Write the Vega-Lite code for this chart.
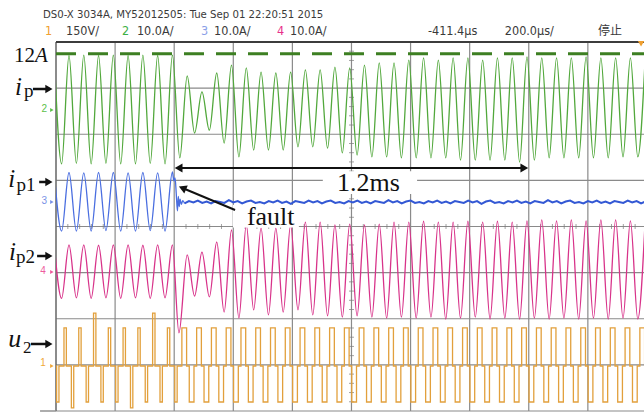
{
  "$schema": "https://vega.github.io/schema/vega-lite/v6.json",
  "width": 588,
  "height": 369,
  "autosize": {"type": "none"},
  "padding": {"left": 56, "top": 42, "right": 0, "bottom": 2},
  "background": "white",
  "config": {"view": {"stroke": null}, "axis": {"disable": true}},
  "resolve": {"scale": {"y": "independent"}},
  "datasets": {
    "vgrid": [{"t": 200}, {"t": 400}, {"t": 600}, {"t": 800}, {"t": 1000}, {"t": 1200}, {"t": 1400}, {"t": 1600}, {"t": 1800}],
    "hgrid": [{"d": 0}, {"d": 1}, {"d": 2}, {"d": 3}, {"d": 4}, {"d": 5}, {"d": 6}, {"d": 7}],
    "ticksX": [{"t":40},{"t":80},{"t":120},{"t":160},{"t":240},{"t":280},{"t":320},{"t":360},{"t":440},{"t":480},{"t":520},{"t":560},{"t":640},{"t":680},{"t":720},{"t":760},{"t":840},{"t":880},{"t":920},{"t":960},{"t":1040},{"t":1080},{"t":1120},{"t":1160},{"t":1240},{"t":1280},{"t":1320},{"t":1360},{"t":1440},{"t":1480},{"t":1520},{"t":1560},{"t":1640},{"t":1680},{"t":1720},{"t":1760},{"t":1840},{"t":1880},{"t":1920},{"t":1960}],
    "ticksY": [{"d":0.2},{"d":0.4},{"d":0.6},{"d":0.8},{"d":1.2},{"d":1.4},{"d":1.6},{"d":1.8},{"d":2.2},{"d":2.4},{"d":2.6},{"d":2.8},{"d":3.2},{"d":3.4},{"d":3.6},{"d":3.8},{"d":4.2},{"d":4.4},{"d":4.6},{"d":4.8},{"d":5.2},{"d":5.4},{"d":5.6},{"d":5.8},{"d":6.2},{"d":6.4},{"d":6.6},{"d":6.8},{"d":7.2},{"d":7.4},{"d":7.6},{"d":7.8}],
    "ip": [
      {"t":-6,"i":11.6},{"t":19,"i":-11.9},{"t":44,"i":11.6},{"t":69,"i":-11.8},{"t":94,"i":11.7},{"t":119,"i":-11.9},{"t":144,"i":11.6},{"t":169,"i":-11.8},{"t":194,"i":11.7},{"t":219,"i":-11.9},{"t":244,"i":11.6},{"t":269,"i":-11.9},{"t":294,"i":11.7},{"t":319,"i":-11.8},{"t":344,"i":11.6},{"t":369,"i":-11.9},{"t":394,"i":11.7},
      {"t":419,"i":-10.6},{"t":444,"i":7.2},{"t":469,"i":-5.2},{"t":494,"i":3.7},{"t":519,"i":-4.6},{"t":544,"i":7.8},{"t":569,"i":-7.4},{"t":594,"i":9.5},{"t":619,"i":-10.4},{"t":644,"i":8.9},{"t":669,"i":-8.9},{"t":694,"i":8.0},{"t":719,"i":-8.9},{"t":744,"i":7.8},{"t":769,"i":-8.9},{"t":794,"i":8.0},{"t":819,"i":-8.2},{"t":844,"i":8.5},{"t":869,"i":-8.2},{"t":894,"i":8.5},{"t":919,"i":-8.5},{"t":944,"i":9.1},{"t":969,"i":-9.5},{"t":994,"i":8.9},{"t":1019,"i":-10.0},{"t":1044,"i":9.5},{"t":1069,"i":-10.4},{"t":1094,"i":10.0},{"t":1119,"i":-10.4},{"t":1144,"i":10.0},{"t":1169,"i":-10.6},{"t":1194,"i":10.6},{"t":1219,"i":-10.6},{"t":1244,"i":11.1},{"t":1269,"i":-10.6},{"t":1294,"i":10.6},{"t":1319,"i":-10.6},{"t":1344,"i":11.1},{"t":1369,"i":-11.1},{"t":1394,"i":11.1},{"t":1419,"i":-11.1},{"t":1444,"i":10.6},{"t":1469,"i":-11.1},{"t":1494,"i":11.1},{"t":1519,"i":-11.1},{"t":1544,"i":11.1},{"t":1569,"i":-11.5},{"t":1594,"i":11.3},{"t":1619,"i":-11.1},{"t":1644,"i":11.1},{"t":1669,"i":-10.6},{"t":1694,"i":11.1},{"t":1719,"i":-10.6},{"t":1744,"i":11.1},{"t":1769,"i":-10.6},{"t":1794,"i":11.3},{"t":1819,"i":-10.6},{"t":1844,"i":11.1},{"t":1869,"i":-10.6},{"t":1894,"i":11.1},{"t":1919,"i":-10.4},{"t":1944,"i":11.1},{"t":1969,"i":-10.4},{"t":1994,"i":11.1}
    ],
    "ip1": [
      {"t":-6,"i":6.4},{"t":19,"i":-6.3},{"t":44,"i":6.4},{"t":69,"i":-6.3},{"t":94,"i":6.3},{"t":119,"i":-6.3},{"t":144,"i":6.4},{"t":169,"i":-6.2},{"t":194,"i":6.4},{"t":219,"i":-6.3},{"t":244,"i":6.3},{"t":269,"i":-6.3},{"t":294,"i":6.4},{"t":319,"i":-6.2},{"t":344,"i":6.3},{"t":369,"i":-6.3},{"t":394,"i":6.5},
      {"t":399,"i":4.6},{"t":403,"i":5.2},{"t":407,"i":1.8},{"t":411,"i":-1.9},{"t":414,"i":1.2},{"t":417,"i":-1.0},{"t":420,"i":0.6},{"t":424,"i":-0.5},{"t":429,"i":0.3},{"t":435,"i":-0.3}
    ],
    "ip1n": [
      {"t":435,"i":-0.3},{"t":450,"i":0.2},{"t":465,"i":-0.1},{"t":480,"i":0.3},{"t":495,"i":-0.2},{"t":510,"i":0.1},{"t":525,"i":-0.3},{"t":540,"i":0.2},{"t":555,"i":0.0},{"t":570,"i":-0.2},{"t":585,"i":0.4},{"t":600,"i":-0.1},{"t":615,"i":0.2},{"t":630,"i":-0.3},{"t":645,"i":0.1},{"t":660,"i":0.3},{"t":675,"i":-0.2},{"t":690,"i":0.0},{"t":705,"i":-0.3},{"t":720,"i":0.2},{"t":735,"i":-0.1},{"t":750,"i":0.3},{"t":765,"i":-0.2},{"t":780,"i":0.1},{"t":795,"i":-0.4},{"t":810,"i":0.2},{"t":825,"i":0.0},{"t":840,"i":-0.2},{"t":855,"i":0.3},{"t":870,"i":-0.1},{"t":885,"i":0.2},{"t":900,"i":-0.3},{"t":915,"i":0.1},{"t":930,"i":0.3},{"t":945,"i":-0.2},{"t":960,"i":0.0},{"t":975,"i":-0.3},{"t":990,"i":0.2},{"t":1005,"i":-0.1},{"t":1020,"i":0.3},{"t":1035,"i":-0.2},{"t":1050,"i":0.1},{"t":1065,"i":-0.3},{"t":1080,"i":0.2},{"t":1095,"i":0.0},{"t":1110,"i":-0.2},{"t":1125,"i":0.4},{"t":1140,"i":-0.1},{"t":1155,"i":0.2},{"t":1170,"i":-0.3},{"t":1185,"i":0.1},{"t":1200,"i":0.3},{"t":1215,"i":-0.2},{"t":1230,"i":0.0},{"t":1245,"i":-0.3},{"t":1260,"i":0.2},{"t":1275,"i":-0.1},{"t":1290,"i":0.3},{"t":1305,"i":-0.2},{"t":1320,"i":0.1},{"t":1335,"i":-0.3},{"t":1350,"i":0.2},{"t":1365,"i":0.0},{"t":1380,"i":-0.2},{"t":1395,"i":0.3},{"t":1410,"i":-0.1},{"t":1425,"i":0.2},{"t":1440,"i":-0.4},{"t":1455,"i":0.1},{"t":1470,"i":0.3},{"t":1485,"i":-0.2},{"t":1500,"i":0.0},{"t":1515,"i":-0.3},{"t":1530,"i":0.2},{"t":1545,"i":-0.1},{"t":1560,"i":0.3},{"t":1575,"i":-0.2},{"t":1590,"i":0.1},{"t":1605,"i":-0.3},{"t":1620,"i":0.2},{"t":1635,"i":0.0},{"t":1650,"i":-0.2},{"t":1665,"i":0.4},{"t":1680,"i":-0.1},{"t":1695,"i":0.2},{"t":1710,"i":-0.3},{"t":1725,"i":0.1},{"t":1740,"i":0.3},{"t":1755,"i":-0.2},{"t":1770,"i":0.0},{"t":1785,"i":-0.3},{"t":1800,"i":0.2},{"t":1815,"i":-0.1},{"t":1830,"i":0.3},{"t":1845,"i":-0.2},{"t":1860,"i":0.1},{"t":1875,"i":-0.3},{"t":1890,"i":0.2},{"t":1905,"i":0.0},{"t":1920,"i":-0.2},{"t":1935,"i":0.3},{"t":1950,"i":-0.1},{"t":1965,"i":0.2},{"t":1980,"i":-0.3},{"t":1995,"i":0.1}
    ],
    "ip2": [
      {"t":-6,"i":5.9},{"t":19,"i":-5.7},{"t":44,"i":5.9},{"t":69,"i":-5.6},{"t":94,"i":5.9},{"t":119,"i":-5.7},{"t":144,"i":5.8},{"t":169,"i":-5.6},{"t":194,"i":5.9},{"t":219,"i":-5.7},{"t":244,"i":5.9},{"t":269,"i":-5.6},{"t":294,"i":5.8},{"t":319,"i":-5.7},{"t":344,"i":5.9},{"t":369,"i":-5.6},{"t":394,"i":5.9},
      {"t":416,"i":-13.2},{"t":444,"i":3.7},{"t":469,"i":-5.2},{"t":494,"i":4.3},{"t":519,"i":-5.4},{"t":544,"i":6.5},{"t":569,"i":-8.7},{"t":594,"i":9.1},{"t":619,"i":-10.0},{"t":644,"i":10.2},{"t":669,"i":-8.2},{"t":694,"i":9.5},{"t":719,"i":-9.3},{"t":744,"i":9.5},{"t":769,"i":-8.7},{"t":794,"i":10.2},{"t":819,"i":-8.2},{"t":844,"i":10.8},{"t":869,"i":-9.3},{"t":894,"i":10.8},{"t":919,"i":-9.5},{"t":944,"i":10.2},{"t":969,"i":-9.8},{"t":994,"i":10.4},{"t":1019,"i":-9.5},{"t":1044,"i":10.2},{"t":1069,"i":-9.8},{"t":1094,"i":10.4},{"t":1119,"i":-10.0},{"t":1144,"i":10.8},{"t":1169,"i":-9.8},{"t":1194,"i":10.8},{"t":1219,"i":-10.0},{"t":1244,"i":11.0},{"t":1269,"i":-9.8},{"t":1294,"i":10.8},{"t":1319,"i":-10.2},{"t":1344,"i":10.8},{"t":1369,"i":-10.0},{"t":1394,"i":11.0},{"t":1419,"i":-9.8},{"t":1444,"i":10.8},{"t":1469,"i":-10.2},{"t":1494,"i":11.0},{"t":1519,"i":-10.0},{"t":1544,"i":10.8},{"t":1569,"i":-10.2},{"t":1594,"i":11.1},{"t":1619,"i":-10.0},{"t":1644,"i":11.3},{"t":1669,"i":-10.2},{"t":1694,"i":11.1},{"t":1719,"i":-10.0},{"t":1744,"i":11.3},{"t":1769,"i":-10.2},{"t":1794,"i":11.1},{"t":1819,"i":-10.0},{"t":1844,"i":11.3},{"t":1869,"i":-10.2},{"t":1894,"i":11.3},{"t":1919,"i":-10.0},{"t":1944,"i":11.1},{"t":1969,"i":-10.2},{"t":1994,"i":11.3}
    ],
    "u2": [
      {"t":0,"u":0},
      {"t":2,"u":-117},{"t":10,"u":0},{"t":27,"u":124},{"t":35,"u":0},
      {"t":52,"u":-136},{"t":60,"u":0},{"t":77,"u":124},{"t":85,"u":0},
      {"t":102,"u":-117},{"t":110,"u":0},{"t":127,"u":172},{"t":135,"u":0},
      {"t":152,"u":-117},{"t":160,"u":0},{"t":177,"u":124},{"t":185,"u":0},
      {"t":202,"u":-117},{"t":210,"u":0},{"t":227,"u":124},{"t":235,"u":0},
      {"t":252,"u":-136},{"t":260,"u":0},{"t":277,"u":124},{"t":285,"u":0},
      {"t":302,"u":-117},{"t":310,"u":0},{"t":327,"u":172},{"t":335,"u":0},
      {"t":352,"u":-117},{"t":360,"u":0},{"t":377,"u":124},{"t":385,"u":0},
      {"t":402,"u":-117},{"t":410,"u":0},{"t":426,"u":124},{"t":442,"u":0},
      {"t":451,"u":-117},{"t":467,"u":0},{"t":476,"u":124},{"t":492,"u":0},
      {"t":501,"u":-117},{"t":517,"u":0},{"t":526,"u":124},{"t":542,"u":0},
      {"t":551,"u":-117},{"t":567,"u":0},{"t":576,"u":124},{"t":592,"u":0},
      {"t":601,"u":-117},{"t":617,"u":0},{"t":626,"u":124},{"t":642,"u":0},
      {"t":651,"u":-117},{"t":667,"u":0},{"t":676,"u":124},{"t":692,"u":0},
      {"t":701,"u":-117},{"t":717,"u":0},{"t":726,"u":124},{"t":742,"u":0},
      {"t":751,"u":-117},{"t":767,"u":0},{"t":776,"u":124},{"t":792,"u":0},
      {"t":801,"u":-117},{"t":817,"u":0},{"t":826,"u":124},{"t":842,"u":0},
      {"t":851,"u":-117},{"t":867,"u":0},{"t":876,"u":124},{"t":892,"u":0},
      {"t":901,"u":-117},{"t":917,"u":0},{"t":926,"u":124},{"t":942,"u":0},
      {"t":951,"u":-117},{"t":967,"u":0},{"t":976,"u":124},{"t":992,"u":0},
      {"t":1001,"u":-117},{"t":1017,"u":0},{"t":1026,"u":124},{"t":1042,"u":0},
      {"t":1051,"u":-117},{"t":1067,"u":0},{"t":1076,"u":124},{"t":1092,"u":0},
      {"t":1101,"u":-117},{"t":1117,"u":0},{"t":1126,"u":124},{"t":1142,"u":0},
      {"t":1151,"u":-117},{"t":1167,"u":0},{"t":1176,"u":124},{"t":1192,"u":0},
      {"t":1201,"u":-117},{"t":1217,"u":0},{"t":1226,"u":124},{"t":1242,"u":0},
      {"t":1251,"u":-117},{"t":1267,"u":0},{"t":1276,"u":124},{"t":1292,"u":0},
      {"t":1301,"u":-117},{"t":1317,"u":0},{"t":1326,"u":124},{"t":1342,"u":0},
      {"t":1351,"u":-117},{"t":1367,"u":0},{"t":1376,"u":124},{"t":1392,"u":0},
      {"t":1401,"u":-117},{"t":1417,"u":0},{"t":1426,"u":124},{"t":1442,"u":0},
      {"t":1451,"u":-117},{"t":1467,"u":0},{"t":1476,"u":124},{"t":1492,"u":0},
      {"t":1501,"u":-117},{"t":1517,"u":0},{"t":1526,"u":124},{"t":1542,"u":0},
      {"t":1551,"u":-117},{"t":1567,"u":0},{"t":1576,"u":124},{"t":1592,"u":0},
      {"t":1601,"u":-117},{"t":1617,"u":0},{"t":1626,"u":124},{"t":1642,"u":0},
      {"t":1651,"u":-117},{"t":1667,"u":0},{"t":1676,"u":124},{"t":1692,"u":0},
      {"t":1701,"u":-117},{"t":1717,"u":0},{"t":1726,"u":124},{"t":1742,"u":0},
      {"t":1751,"u":-117},{"t":1767,"u":0},{"t":1776,"u":124},{"t":1792,"u":0},
      {"t":1801,"u":-117},{"t":1817,"u":0},{"t":1826,"u":124},{"t":1842,"u":0},
      {"t":1851,"u":-117},{"t":1867,"u":0},{"t":1876,"u":124},{"t":1892,"u":0},
      {"t":1901,"u":-117},{"t":1917,"u":0},{"t":1926,"u":124},{"t":1942,"u":0},
      {"t":1951,"u":-117},{"t":1967,"u":0},{"t":1976,"u":124},{"t":1992,"u":0}
    ],
    "one": [{}]
  },
  "layer": [
    {"data": {"name": "vgrid"}, "mark": {"type": "rule", "color": "#8a8a8a", "strokeWidth": 1.2},
     "encoding": {"x": {"field": "t", "type": "quantitative", "scale": {"domain": [0, 1990], "nice": false, "zero": false}}}},
    {"data": {"name": "hgrid"}, "mark": {"type": "rule", "color": "#8a8a8a", "strokeWidth": 1.2},
     "encoding": {"y": {"field": "d", "type": "quantitative", "scale": {"domain": [0, 8], "nice": false, "zero": false}}}},
    {"data": {"name": "one"}, "mark": {"type": "rule", "color": "#6e6e6e", "strokeWidth": 1.6},
     "encoding": {"x": {"datum": 0, "scale": {"domain": [0, 1990], "nice": false, "zero": false}}}},
    {"data": {"name": "one"}, "mark": {"type": "rule", "color": "#3c3c3c", "strokeWidth": 2},
     "encoding": {"y": {"datum": 8, "scale": {"domain": [0, 8], "nice": false, "zero": false}}}},
    {"data": {"name": "one"}, "mark": {"type": "rule", "color": "#8a8a8a", "strokeWidth": 1.4},
     "encoding": {"x": {"datum": -54, "scale": {"domain": [0, 1990], "nice": false, "zero": false}}, "x2": {"datum": 0},
                  "y": {"datum": 0, "scale": {"domain": [0, 8], "nice": false, "zero": false}}}},
    {"data": {"name": "ticksX"}, "mark": {"type": "tick", "orient": "vertical", "size": 5, "thickness": 1, "color": "#7a7a7a"},
     "encoding": {"x": {"field": "t", "type": "quantitative", "scale": {"domain": [0, 1990], "nice": false, "zero": false}},
                  "y": {"datum": 4, "scale": {"domain": [0, 8], "nice": false, "zero": false}}}},
    {"data": {"name": "ticksY"}, "mark": {"type": "tick", "orient": "horizontal", "size": 5, "thickness": 1, "color": "#7a7a7a"},
     "encoding": {"x": {"datum": 1000, "scale": {"domain": [0, 1990], "nice": false, "zero": false}},
                  "y": {"field": "d", "type": "quantitative", "scale": {"domain": [0, 8], "nice": false, "zero": false}}}},

    {"data": {"name": "one"}, "mark": {"type": "rule", "color": "#3d7f22", "strokeWidth": 3, "strokeDash": [20, 12], "strokeDashOffset": 8},
     "encoding": {"y": {"datum": 12, "scale": {"domain": [-65.474, 14.526], "nice": false, "zero": false}}}},

    {"data": {"name": "ip"}, "mark": {"type": "line", "color": "#52a83c", "strokeWidth": 1.3, "interpolate": "monotone", "clip": true},
     "encoding": {"x": {"field": "t", "type": "quantitative", "scale": {"domain": [0, 1990], "nice": false, "zero": false}},
                  "y": {"field": "i", "type": "quantitative", "scale": {"domain": [-65.474, 14.526], "nice": false, "zero": false}}}},
    {"data": {"name": "ip1"}, "mark": {"type": "line", "color": "#4a6ee0", "strokeWidth": 1.3, "interpolate": "monotone", "clip": true},
     "encoding": {"x": {"field": "t", "type": "quantitative", "scale": {"domain": [0, 1990], "nice": false, "zero": false}},
                  "y": {"field": "i", "type": "quantitative", "scale": {"domain": [-45.312, 34.688], "nice": false, "zero": false}}}},
    {"data": {"name": "ip1n"}, "mark": {"type": "line", "color": "#3358d4", "strokeWidth": 2, "clip": true},
     "encoding": {"x": {"field": "t", "type": "quantitative", "scale": {"domain": [0, 1990], "nice": false, "zero": false}},
                  "y": {"field": "i", "type": "quantitative", "scale": {"domain": [-45.312, 34.688], "nice": false, "zero": false}}}},
    {"data": {"name": "ip2"}, "mark": {"type": "line", "color": "#d8338a", "strokeWidth": 1.3, "interpolate": "monotone", "clip": true},
     "encoding": {"x": {"field": "t", "type": "quantitative", "scale": {"domain": [0, 1990], "nice": false, "zero": false}},
                  "y": {"field": "i", "type": "quantitative", "scale": {"domain": [-30.136, 49.864], "nice": false, "zero": false}}}},
    {"data": {"name": "u2"}, "mark": {"type": "line", "color": "#e2a03c", "strokeWidth": 1.3, "interpolate": "step-after", "clip": true},
     "encoding": {"x": {"field": "t", "type": "quantitative", "scale": {"domain": [0, 1990], "nice": false, "zero": false}},
                  "y": {"field": "u", "type": "quantitative", "scale": {"domain": [-146.34, 1053.66], "nice": false, "zero": false}}}},

    {"data": {"name": "one"}, "mark": {"type": "rect", "fill": "white"},
     "encoding": {"x": {"datum": 903, "scale": {"domain": [0, 1990], "nice": false, "zero": false}}, "x2": {"datum": 1222},
                  "y": {"datum": 5.2, "scale": {"domain": [0, 8], "nice": false, "zero": false}}, "y2": {"datum": 4.705}}},
    {"data": {"name": "one"}, "mark": {"type": "rect", "fill": "white"},
     "encoding": {"x": {"datum": 599, "scale": {"domain": [0, 1990], "nice": false, "zero": false}}, "x2": {"datum": 822},
                  "y": {"datum": 4.466, "scale": {"domain": [0, 8], "nice": false, "zero": false}}, "y2": {"datum": 3.98}}},

    {"data": {"name": "one"}, "mark": {"type": "text", "text": "1.2ms", "font": "Liberation Serif", "fontSize": 26, "align": "left", "baseline": "alphabetic", "color": "#111"},
     "encoding": {"x": {"datum": 951, "scale": {"domain": [0, 1990], "nice": false, "zero": false}},
                  "y": {"datum": 4.759, "scale": {"domain": [0, 8], "nice": false, "zero": false}}}},
    {"data": {"name": "one"}, "mark": {"type": "text", "text": "fault", "font": "Liberation Serif", "fontSize": 26, "align": "left", "baseline": "alphabetic", "color": "#111"},
     "encoding": {"x": {"datum": 646, "scale": {"domain": [0, 1990], "nice": false, "zero": false}},
                  "y": {"datum": 4.033, "scale": {"domain": [0, 8], "nice": false, "zero": false}}}},

    {"data": {"name": "one"}, "mark": {"type": "rule", "color": "#111", "strokeWidth": 2},
     "encoding": {"x": {"datum": 415, "scale": {"domain": [0, 1990], "nice": false, "zero": false}}, "x2": {"datum": 1585},
                  "y": {"datum": 5.268, "scale": {"domain": [0, 8], "nice": false, "zero": false}}}},
    {"data": {"name": "one"}, "mark": {"type": "point", "shape": "triangle-left", "size": 80, "filled": true, "color": "#111", "opacity": 1},
     "encoding": {"x": {"datum": 415, "scale": {"domain": [0, 1990], "nice": false, "zero": false}},
                  "y": {"datum": 5.268, "scale": {"domain": [0, 8], "nice": false, "zero": false}}}},
    {"data": {"name": "one"}, "mark": {"type": "point", "shape": "triangle-right", "size": 80, "filled": true, "color": "#111", "opacity": 1},
     "encoding": {"x": {"datum": 1585, "scale": {"domain": [0, 1990], "nice": false, "zero": false}},
                  "y": {"datum": 5.268, "scale": {"domain": [0, 8], "nice": false, "zero": false}}}},
    {"data": {"name": "one"}, "mark": {"type": "rule", "color": "#111", "strokeWidth": 2},
     "encoding": {"x": {"datum": 606, "scale": {"domain": [0, 1990], "nice": false, "zero": false}}, "x2": {"datum": 428},
                  "y": {"datum": 4.358, "scale": {"domain": [0, 8], "nice": false, "zero": false}}, "y2": {"datum": 4.835}}},
    {"data": {"name": "one"}, "mark": {"type": "point", "shape": "triangle-up", "angle": -67, "size": 80, "filled": true, "color": "#111", "opacity": 1},
     "encoding": {"x": {"datum": 428, "scale": {"domain": [0, 1990], "nice": false, "zero": false}},
                  "y": {"datum": 4.835, "scale": {"domain": [0, 8], "nice": false, "zero": false}}}},

    {"data": {"name": "one"}, "mark": {"type": "text", "text": "12", "font": "Liberation Serif", "fontSize": 21, "align": "right", "baseline": "alphabetic", "color": "#111"},
     "encoding": {"x": {"datum": -71, "scale": {"domain": [0, 1990], "nice": false, "zero": false}},
                  "y": {"datum": 7.566, "scale": {"domain": [0, 8], "nice": false, "zero": false}}}},
    {"data": {"name": "one"}, "mark": {"type": "text", "text": "A", "font": "Liberation Serif", "fontStyle": "italic", "fontSize": 21, "align": "left", "baseline": "alphabetic", "color": "#111"},
     "encoding": {"x": {"datum": -71, "scale": {"domain": [0, 1990], "nice": false, "zero": false}},
                  "y": {"datum": 7.566, "scale": {"domain": [0, 8], "nice": false, "zero": false}}}},

    {"data": {"name": "one"}, "mark": {"type": "text", "text": "i", "font": "Liberation Serif", "fontStyle": "italic", "fontSize": 25, "align": "left", "baseline": "alphabetic", "color": "#111"},
     "encoding": {"x": {"datum": -139, "scale": {"domain": [0, 1990], "nice": false, "zero": false}},
                  "y": {"datum": 6.851, "scale": {"domain": [0, 8], "nice": false, "zero": false}}}},
    {"data": {"name": "one"}, "mark": {"type": "text", "text": "p", "font": "Liberation Serif", "fontSize": 19, "align": "left", "baseline": "alphabetic", "color": "#111"},
     "encoding": {"x": {"datum": -108, "scale": {"domain": [0, 1990], "nice": false, "zero": false}},
                  "y": {"datum": 6.808, "scale": {"domain": [0, 8], "nice": false, "zero": false}}}},
    {"data": {"name": "one"}, "mark": {"type": "text", "text": "i", "font": "Liberation Serif", "fontStyle": "italic", "fontSize": 25, "align": "left", "baseline": "alphabetic", "color": "#111"},
     "encoding": {"x": {"datum": -162, "scale": {"domain": [0, 1990], "nice": false, "zero": false}},
                  "y": {"datum": 4.856, "scale": {"domain": [0, 8], "nice": false, "zero": false}}}},
    {"data": {"name": "one"}, "mark": {"type": "text", "text": "p1", "font": "Liberation Serif", "fontSize": 19, "align": "left", "baseline": "alphabetic", "color": "#111"},
     "encoding": {"x": {"datum": -134, "scale": {"domain": [0, 1990], "nice": false, "zero": false}},
                  "y": {"datum": 4.77, "scale": {"domain": [0, 8], "nice": false, "zero": false}}}},
    {"data": {"name": "one"}, "mark": {"type": "text", "text": "i", "font": "Liberation Serif", "fontStyle": "italic", "fontSize": 25, "align": "left", "baseline": "alphabetic", "color": "#111"},
     "encoding": {"x": {"datum": -159, "scale": {"domain": [0, 1990], "nice": false, "zero": false}},
                  "y": {"datum": 3.274, "scale": {"domain": [0, 8], "nice": false, "zero": false}}}},
    {"data": {"name": "one"}, "mark": {"type": "text", "text": "p2", "font": "Liberation Serif", "fontSize": 19, "align": "left", "baseline": "alphabetic", "color": "#111"},
     "encoding": {"x": {"datum": -135, "scale": {"domain": [0, 1990], "nice": false, "zero": false}},
                  "y": {"datum": 3.209, "scale": {"domain": [0, 8], "nice": false, "zero": false}}}},
    {"data": {"name": "one"}, "mark": {"type": "text", "text": "u", "font": "Liberation Serif", "fontStyle": "italic", "fontSize": 26, "align": "left", "baseline": "alphabetic", "color": "#111"},
     "encoding": {"x": {"datum": -162, "scale": {"domain": [0, 1990], "nice": false, "zero": false}},
                  "y": {"datum": 1.388, "scale": {"domain": [0, 8], "nice": false, "zero": false}}}},
    {"data": {"name": "one"}, "mark": {"type": "text", "text": "2", "font": "Liberation Serif", "fontSize": 17, "align": "left", "baseline": "alphabetic", "color": "#111"},
     "encoding": {"x": {"datum": -112, "scale": {"domain": [0, 1990], "nice": false, "zero": false}},
                  "y": {"datum": 1.257, "scale": {"domain": [0, 8], "nice": false, "zero": false}}}},

    {"data": {"name": "one"}, "mark": {"type": "rule", "color": "#111", "strokeWidth": 2.5},
     "encoding": {"x": {"datum": -78, "scale": {"domain": [0, 1990], "nice": false, "zero": false}}, "x2": {"datum": -22},
                  "y": {"datum": 6.981, "scale": {"domain": [0, 8], "nice": false, "zero": false}}}},
    {"data": {"name": "one"}, "mark": {"type": "point", "shape": "triangle-right", "size": 70, "filled": true, "color": "#111", "opacity": 1},
     "encoding": {"x": {"datum": -24, "scale": {"domain": [0, 1990], "nice": false, "zero": false}},
                  "y": {"datum": 6.981, "scale": {"domain": [0, 8], "nice": false, "zero": false}}}},
    {"data": {"name": "one"}, "mark": {"type": "rule", "color": "#111", "strokeWidth": 2.5},
     "encoding": {"x": {"datum": -57, "scale": {"domain": [0, 1990], "nice": false, "zero": false}}, "x2": {"datum": -22},
                  "y": {"datum": 4.965, "scale": {"domain": [0, 8], "nice": false, "zero": false}}}},
    {"data": {"name": "one"}, "mark": {"type": "point", "shape": "triangle-right", "size": 70, "filled": true, "color": "#111", "opacity": 1},
     "encoding": {"x": {"datum": -24, "scale": {"domain": [0, 1990], "nice": false, "zero": false}},
                  "y": {"datum": 4.965, "scale": {"domain": [0, 8], "nice": false, "zero": false}}}},
    {"data": {"name": "one"}, "mark": {"type": "rule", "color": "#111", "strokeWidth": 2.5},
     "encoding": {"x": {"datum": -64, "scale": {"domain": [0, 1990], "nice": false, "zero": false}}, "x2": {"datum": -22},
                  "y": {"datum": 3.36, "scale": {"domain": [0, 8], "nice": false, "zero": false}}}},
    {"data": {"name": "one"}, "mark": {"type": "point", "shape": "triangle-right", "size": 70, "filled": true, "color": "#111", "opacity": 1},
     "encoding": {"x": {"datum": -24, "scale": {"domain": [0, 1990], "nice": false, "zero": false}},
                  "y": {"datum": 3.36, "scale": {"domain": [0, 8], "nice": false, "zero": false}}}},
    {"data": {"name": "one"}, "mark": {"type": "rule", "color": "#111", "strokeWidth": 2.5},
     "encoding": {"x": {"datum": -85, "scale": {"domain": [0, 1990], "nice": false, "zero": false}}, "x2": {"datum": -22},
                  "y": {"datum": 1.453, "scale": {"domain": [0, 8], "nice": false, "zero": false}}}},
    {"data": {"name": "one"}, "mark": {"type": "point", "shape": "triangle-right", "size": 70, "filled": true, "color": "#111", "opacity": 1},
     "encoding": {"x": {"datum": -24, "scale": {"domain": [0, 1990], "nice": false, "zero": false}},
                  "y": {"datum": 1.453, "scale": {"domain": [0, 8], "nice": false, "zero": false}}}},

    {"data": {"name": "one"}, "mark": {"type": "text", "text": "2", "font": "Liberation Sans", "fontSize": 10, "align": "center", "baseline": "middle", "color": "#5cc04a"},
     "encoding": {"x": {"datum": -40, "scale": {"domain": [0, 1990], "nice": false, "zero": false}},
                  "y": {"datum": 6.547, "scale": {"domain": [0, 8], "nice": false, "zero": false}}}},
    {"data": {"name": "one"}, "mark": {"type": "point", "shape": "triangle-right", "size": 16, "filled": true, "color": "#5cc04a", "opacity": 1},
     "encoding": {"x": {"datum": -14, "scale": {"domain": [0, 1990], "nice": false, "zero": false}},
                  "y": {"datum": 6.526, "scale": {"domain": [0, 8], "nice": false, "zero": false}}}},
    {"data": {"name": "one"}, "mark": {"type": "text", "text": "3", "font": "Liberation Sans", "fontSize": 10, "align": "center", "baseline": "middle", "color": "#7a92e6"},
     "encoding": {"x": {"datum": -40, "scale": {"domain": [0, 1990], "nice": false, "zero": false}},
                  "y": {"datum": 4.553, "scale": {"domain": [0, 8], "nice": false, "zero": false}}}},
    {"data": {"name": "one"}, "mark": {"type": "point", "shape": "triangle-right", "size": 16, "filled": true, "color": "#7a92e6", "opacity": 1},
     "encoding": {"x": {"datum": -14, "scale": {"domain": [0, 1990], "nice": false, "zero": false}},
                  "y": {"datum": 4.531, "scale": {"domain": [0, 8], "nice": false, "zero": false}}}},
    {"data": {"name": "one"}, "mark": {"type": "text", "text": "4", "font": "Liberation Sans", "fontSize": 10, "align": "center", "baseline": "middle", "color": "#ee5c9e"},
     "encoding": {"x": {"datum": -44, "scale": {"domain": [0, 1990], "nice": false, "zero": false}},
                  "y": {"datum": 3.035, "scale": {"domain": [0, 8], "nice": false, "zero": false}}}},
    {"data": {"name": "one"}, "mark": {"type": "point", "shape": "triangle-right", "size": 16, "filled": true, "color": "#ee5c9e", "opacity": 1},
     "encoding": {"x": {"datum": -14, "scale": {"domain": [0, 1990], "nice": false, "zero": false}},
                  "y": {"datum": 3.014, "scale": {"domain": [0, 8], "nice": false, "zero": false}}}},
    {"data": {"name": "one"}, "mark": {"type": "text", "text": "1", "font": "Liberation Sans", "fontSize": 10, "align": "center", "baseline": "middle", "color": "#f0a838"},
     "encoding": {"x": {"datum": -44, "scale": {"domain": [0, 1990], "nice": false, "zero": false}},
                  "y": {"datum": 1.04, "scale": {"domain": [0, 8], "nice": false, "zero": false}}}},
    {"data": {"name": "one"}, "mark": {"type": "point", "shape": "triangle-right", "size": 16, "filled": true, "color": "#f0a838", "opacity": 1},
     "encoding": {"x": {"datum": -14, "scale": {"domain": [0, 1990], "nice": false, "zero": false}},
                  "y": {"datum": 0.976, "scale": {"domain": [0, 8], "nice": false, "zero": false}}}},
    {"data": {"name": "one"}, "mark": {"type": "point", "shape": "triangle-down", "size": 40, "filled": true, "color": "#f0a030", "opacity": 1},
     "encoding": {"x": {"datum": 1980, "scale": {"domain": [0, 1990], "nice": false, "zero": false}},
                  "y": {"datum": 7.96, "scale": {"domain": [0, 8], "nice": false, "zero": false}}}},

    {"data": {"name": "one"}, "mark": {"type": "text", "text": "DS0-X 3034A, MY52012505: Tue Sep 01 22:20:51 2015", "font": "Liberation Sans Narrow, DejaVu Sans Condensed, Liberation Sans", "fontSize": 11.3, "align": "left", "baseline": "alphabetic", "color": "#3a3a3a"},
     "encoding": {"x": {"datum": -44, "scale": {"domain": [0, 1990], "nice": false, "zero": false}},
                  "y": {"datum": 8.52, "scale": {"domain": [0, 8], "nice": false, "zero": false}}}},
    {"data": {"name": "one"}, "mark": {"type": "text", "text": "1", "font": "Liberation Sans Narrow, DejaVu Sans Condensed, Liberation Sans", "fontSize": 12.5, "align": "left", "baseline": "alphabetic", "color": "#f0a030"},
     "encoding": {"x": {"datum": -37, "scale": {"domain": [0, 1990], "nice": false, "zero": false}},
                  "y": {"datum": 8.141, "scale": {"domain": [0, 8], "nice": false, "zero": false}}}},
    {"data": {"name": "one"}, "mark": {"type": "text", "text": "150V/", "font": "Liberation Sans Narrow, DejaVu Sans Condensed, Liberation Sans", "fontSize": 12.5, "align": "left", "baseline": "alphabetic", "color": "#3a3a3a"},
     "encoding": {"x": {"datum": 34, "scale": {"domain": [0, 1990], "nice": false, "zero": false}},
                  "y": {"datum": 8.141, "scale": {"domain": [0, 8], "nice": false, "zero": false}}}},
    {"data": {"name": "one"}, "mark": {"type": "text", "text": "2", "font": "Liberation Sans Narrow, DejaVu Sans Condensed, Liberation Sans", "fontSize": 12.5, "align": "left", "baseline": "alphabetic", "color": "#3cb043"},
     "encoding": {"x": {"datum": 223, "scale": {"domain": [0, 1990], "nice": false, "zero": false}},
                  "y": {"datum": 8.141, "scale": {"domain": [0, 8], "nice": false, "zero": false}}}},
    {"data": {"name": "one"}, "mark": {"type": "text", "text": "10.0A/", "font": "Liberation Sans Narrow, DejaVu Sans Condensed, Liberation Sans", "fontSize": 12.5, "align": "left", "baseline": "alphabetic", "color": "#3a3a3a"},
     "encoding": {"x": {"datum": 274, "scale": {"domain": [0, 1990], "nice": false, "zero": false}},
                  "y": {"datum": 8.141, "scale": {"domain": [0, 8], "nice": false, "zero": false}}}},
    {"data": {"name": "one"}, "mark": {"type": "text", "text": "3", "font": "Liberation Sans Narrow, DejaVu Sans Condensed, Liberation Sans", "fontSize": 12.5, "align": "left", "baseline": "alphabetic", "color": "#8aa0e8"},
     "encoding": {"x": {"datum": 491, "scale": {"domain": [0, 1990], "nice": false, "zero": false}},
                  "y": {"datum": 8.141, "scale": {"domain": [0, 8], "nice": false, "zero": false}}}},
    {"data": {"name": "one"}, "mark": {"type": "text", "text": "10.0A/", "font": "Liberation Sans Narrow, DejaVu Sans Condensed, Liberation Sans", "fontSize": 12.5, "align": "left", "baseline": "alphabetic", "color": "#3a3a3a"},
     "encoding": {"x": {"datum": 535, "scale": {"domain": [0, 1990], "nice": false, "zero": false}},
                  "y": {"datum": 8.141, "scale": {"domain": [0, 8], "nice": false, "zero": false}}}},
    {"data": {"name": "one"}, "mark": {"type": "text", "text": "4", "font": "Liberation Sans Narrow, DejaVu Sans Condensed, Liberation Sans", "fontSize": 12.5, "align": "left", "baseline": "alphabetic", "color": "#e8308a"},
     "encoding": {"x": {"datum": 748, "scale": {"domain": [0, 1990], "nice": false, "zero": false}},
                  "y": {"datum": 8.141, "scale": {"domain": [0, 8], "nice": false, "zero": false}}}},
    {"data": {"name": "one"}, "mark": {"type": "text", "text": "10.0A/", "font": "Liberation Sans Narrow, DejaVu Sans Condensed, Liberation Sans", "fontSize": 12.5, "align": "left", "baseline": "alphabetic", "color": "#3a3a3a"},
     "encoding": {"x": {"datum": 792, "scale": {"domain": [0, 1990], "nice": false, "zero": false}},
                  "y": {"datum": 8.141, "scale": {"domain": [0, 8], "nice": false, "zero": false}}}},
    {"data": {"name": "one"}, "mark": {"type": "text", "text": "-411.4µs", "font": "Liberation Sans Narrow, DejaVu Sans Condensed, Liberation Sans", "fontSize": 12.5, "align": "left", "baseline": "alphabetic", "color": "#3a3a3a"},
     "encoding": {"x": {"datum": 1259, "scale": {"domain": [0, 1990], "nice": false, "zero": false}},
                  "y": {"datum": 8.141, "scale": {"domain": [0, 8], "nice": false, "zero": false}}}},
    {"data": {"name": "one"}, "mark": {"type": "text", "text": "200.0µs/", "font": "Liberation Sans Narrow, DejaVu Sans Condensed, Liberation Sans", "fontSize": 12.5, "align": "left", "baseline": "alphabetic", "color": "#3a3a3a"},
     "encoding": {"x": {"datum": 1519, "scale": {"domain": [0, 1990], "nice": false, "zero": false}},
                  "y": {"datum": 8.141, "scale": {"domain": [0, 8], "nice": false, "zero": false}}}},
    {"data": {"name": "one"}, "mark": {"type": "text", "text": "停止", "font": "Noto Sans CJK SC", "fontSize": 12, "align": "left", "baseline": "alphabetic", "color": "#3a3a3a"},
     "encoding": {"x": {"datum": 1834, "scale": {"domain": [0, 1990], "nice": false, "zero": false}},
                  "y": {"datum": 8.141, "scale": {"domain": [0, 8], "nice": false, "zero": false}}}}
  ]
}
